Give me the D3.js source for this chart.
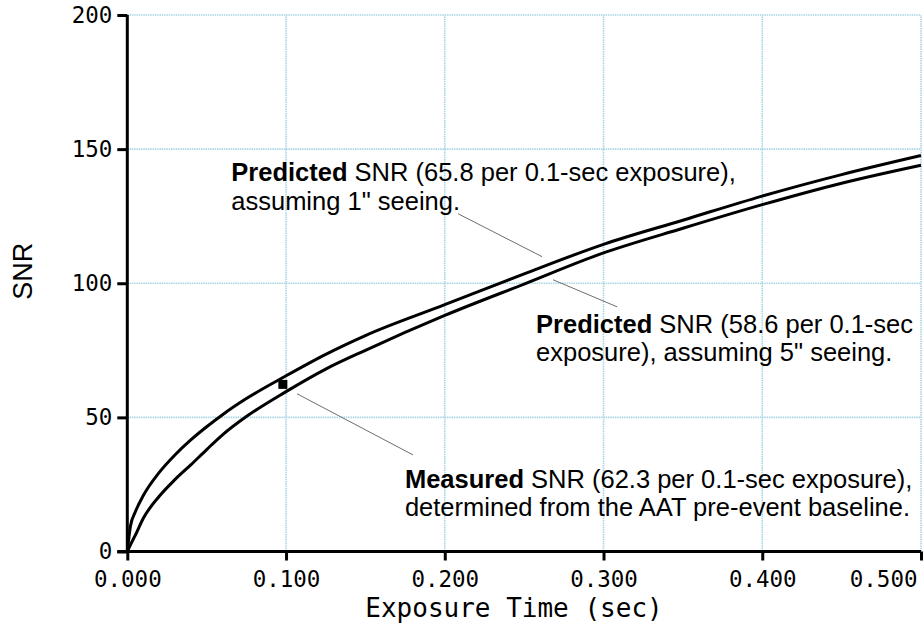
<!DOCTYPE html>
<html>
<head>
<meta charset="utf-8">
<script src="https://cdn.jsdelivr.net/npm/d3@7"></script>
<style>
  body { margin: 0; background: #fff; }
</style>
</head>
<body>
<div id="chart"></div>
<script>
// Settings
const SIZE = [924, 626]
const MARGIN = {top: 15, right: 3, bottom: 74.5, left: 127.3}
const MONO = "'DejaVu Sans Mono', monospace"
const SANS = "'Liberation Sans', Arial, sans-serif"

// Values
const exposureTimes = [0, 0.002, 0.005, 0.01, 0.02, 0.03, 0.04, 0.05, 0.06, 0.075, 0.1, 0.125, 0.15, 0.2, 0.25, 0.3, 0.35, 0.4, 0.45, 0.5]
const snrSeeing1 = [0, 9.5, 14.7, 20.8, 29.4, 36.0, 41.6, 46.5, 51.0, 57.0, 65.5, 73.5, 80.5, 92.0, 103.5, 114.5, 123.5, 132.5, 140.5, 147.6]
const snrSeeing5 = [0, 2.5, 6.0, 12.3, 20.5, 26.8, 32.3, 38.0, 43.5, 50.3, 59.6, 68.0, 75.0, 88.0, 99.7, 111.3, 120.5, 129.3, 137.3, 144.0]
const measuredPoint = [0.098, 62.3]
const xTicks = [0, 0.1, 0.2, 0.3, 0.4, 0.5]
const yTicks = [0, 50, 100, 150, 200]

// Annotations: text lines as [bold, normal] pairs, anchor and leader line in data units
const annotations = [
  {at: [0.0655, 138.0], lines: [["Predicted", " SNR (65.8 per 0.1-sec exposure),"], ["", "assuming 1\" seeing."]],
   leader: [[0.2084, 125.9], [0.2613, 109.9]]},
  {at: [0.2575, 81.5], lines: [["Predicted", " SNR (58.6 per 0.1-sec"], ["", "exposure), assuming 5\" seeing."]],
   leader: [[0.2682, 101.3], [0.3086, 91.2]]},
  {at: [0.1749, 23.7], lines: [["Measured", " SNR (62.3 per 0.1-sec exposure),"], ["", "determined from the AAT pre-event baseline."]],
   leader: [[0.1069, 58.8], [0.180, 36.0]]}
]

const svg = d3.select("#chart").append("svg")
  .attr("width", SIZE[0])
  .attr("height", SIZE[1])

const x = d3.scaleLinear()
  .domain([0, 0.5])
  .range([MARGIN.left, SIZE[0] - MARGIN.right])

const y = d3.scaleLinear()
  .domain([0, 200])
  .range([SIZE[1] - MARGIN.bottom, MARGIN.top])

// Grid
const grid = svg.append("g")
  .attr("stroke", "#a8d6e4")
  .attr("stroke-width", 1.6)
  .attr("stroke-dasharray", "1.5,0.8")
grid.selectAll(".vgrid")
  .data(xTicks.filter(d => d > 0))
  .join("line")
    .attr("x1", d => x(d)).attr("x2", d => x(d))
    .attr("y1", y(0)).attr("y2", y(200))
grid.selectAll(".hgrid")
  .data(yTicks.filter(d => d > 0))
  .join("line")
    .attr("x1", x(0)).attr("x2", x(0.5))
    .attr("y1", d => y(d)).attr("y2", d => y(d))

// Annotation text, one <text> per line
const notes = svg.append("g")
  .attr("font-family", SANS)
  .attr("font-size", 25.5)
  .attr("fill", "#000")
annotations.forEach(a => {
  a.lines.forEach((l, i) => {
    const t = notes.append("text")
      .attr("x", x(a.at[0]))
      .attr("y", y(a.at[1]) + i * 28.5)
    if (l[0]) t.append("tspan").attr("font-weight", "bold").text(l[0])
    t.append("tspan").text(l[1])
  })
})

notes.selectAll("line")
  .data(annotations)
  .join("line")
    .attr("x1", d => x(d.leader[0][0]))
    .attr("y1", d => y(d.leader[0][1]))
    .attr("x2", d => x(d.leader[1][0]))
    .attr("y2", d => y(d.leader[1][1]))
    .attr("stroke", "#6e6e6e")
    .attr("stroke-width", 1)

// Curves
const line = d3.line()
  .x((d, i) => x(exposureTimes[i]))
  .y(d => y(d))
  .curve(d3.curveMonotoneX)

svg.append("g")
    .attr("fill", "none")
    .attr("stroke", "#000")
    .attr("stroke-width", 3)
    .attr("stroke-linejoin", "round")
  .selectAll("path")
  .data([snrSeeing1, snrSeeing5])
  .join("path")
    .attr("d", line)

// Axes
const xAxis = g => g
  .attr("transform", `translate(0,${y(0)})`)
  .call(d3.axisBottom(x).tickValues(xTicks).tickSize(9).tickPadding(11).tickFormat(d3.format(".3f")))
  .call(g => g.select(".domain").attr("stroke-width", 3).attr("d", `M${x(0) - 10},0H${x(0.5)}`))
  .call(g => g.selectAll(".tick line").attr("stroke-width", 3))
  .call(g => g.selectAll(".tick text").attr("font-family", MONO).attr("font-size", 22.5).attr("fill", "#000"))
  .call(g => g.selectAll(".tick:last-of-type text").attr("text-anchor", "end").attr("dx", -4))

const yAxis = g => g
  .attr("transform", `translate(${x(0)},0)`)
  .call(d3.axisLeft(y).tickValues(yTicks).tickSize(10).tickPadding(5))
  .call(g => g.select(".domain").attr("stroke-width", 3).attr("d", `M0,${y(0)}V${y(200)}`))
  .call(g => g.selectAll(".tick line").attr("stroke-width", 3))
  .call(g => g.selectAll(".tick text").attr("font-family", MONO).attr("font-size", 22.5).attr("fill", "#000"))

svg.append("g").call(xAxis)
svg.append("g").call(yAxis)

svg.append("text")
  .attr("x", 514)
  .attr("y", 617)
  .attr("text-anchor", "middle")
  .attr("font-family", MONO)
  .attr("font-size", 26)
  .text("Exposure Time (sec)")

svg.append("text")
  .attr("transform", `translate(32,${(y(0) + y(200)) / 2 - 12}) rotate(-90)`)
  .attr("text-anchor", "middle")
  .attr("font-family", SANS)
  .attr("font-size", 27)
  .text("SNR")

// Measured point
svg.append("rect")
  .attr("x", x(measuredPoint[0]) - 4.5)
  .attr("y", y(measuredPoint[1]) - 4.5)
  .attr("width", 9)
  .attr("height", 9)
  .attr("fill", "#000")
</script>
</body>
</html>
